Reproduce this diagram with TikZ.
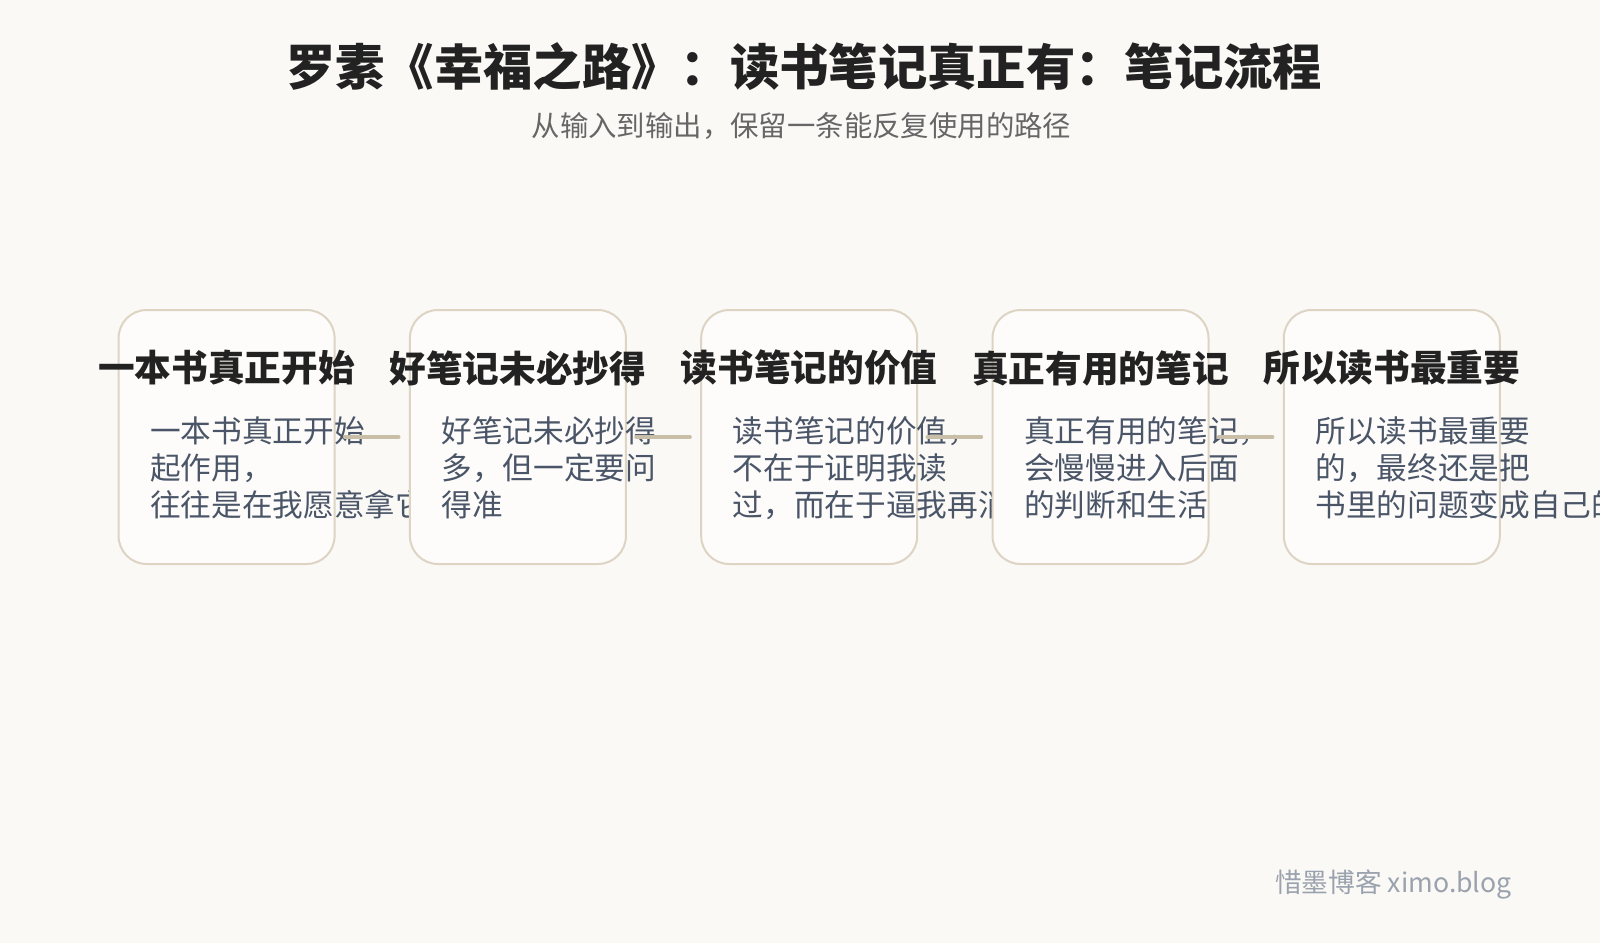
\documentclass[tikz,border=0pt]{standalone}
\usepackage{fontspec}
\setmainfont{Noto Sans CJK SC}
\usetikzlibrary{positioning}

\definecolor{pagebg}{HTML}{FAF9F6}
\definecolor{cardfill}{HTML}{FDFCFA}
\definecolor{cardline}{HTML}{DDD4C4}
\definecolor{linkline}{HTML}{C9BEA8}
\definecolor{titletext}{HTML}{222222}
\definecolor{subtext}{HTML}{666666}
\definecolor{headtext}{HTML}{222222}
\definecolor{bodytext}{HTML}{4A5568}
\definecolor{marktext}{HTML}{9AA2AE}

\tikzset{
  card/.style={draw=cardline, fill=cardfill, line width=1.5pt, rounded corners=21pt,
    minimum width=162pt, minimum height=190.5pt, inner sep=0pt},
  cardhead/.style={text=headtext, inner sep=0pt, font=\bfseries\fontsize{27.5pt}{33pt}\selectfont},
  cardbody/.style={anchor=north west, align=left, inner sep=0pt, text=bodytext,
    font=\fontsize{23pt}{27.75pt}\selectfont},
  link/.style={draw=linkline, line width=2.4pt, line cap=round, shorten <=6.75pt, shorten >=7.5pt},
}

\begin{document}
\begin{tikzpicture}[x=0.75pt,y=0.75pt,yscale=-1,xscale=1]
\fill[pagebg] (0,0) rectangle (1600,943);
\useasboundingbox (0,0) rectangle (1600,943);

% Title
\node[text=titletext, inner sep=0pt, font=\bfseries\fontsize{37pt}{44pt}\selectfont] (title) at (804,67) {罗素《幸福之路》：读书笔记真正有：笔记流程};
% Subtitle
\node[text=subtext, inner sep=0pt, font=\fontsize{21.3pt}{26pt}\selectfont] (subtitle) at (801.5,126.5) {从输入到输出，保留一条能反复使用的路径};

%Card 1
\node[card] (c1) at (226.6,437) {};
\node[cardhead] (h1) at (226.6,368) {一本书真正开始};
\node[cardbody] (t1) at (150,416) {一本书真正开始\\起作用，\\往往是在我愿意拿它};
%Card 2
\node[card] (c2) at (517.9,437) {};
\node[cardhead] (h2) at (517.9,368) {好笔记未必抄得};
\node[cardbody] (t2) at (441.3,416) {好笔记未必抄得\\多，但一定要问\\得准};
%Card 3
\node[card] (c3) at (809.2,437) {};
\node[cardhead] (h3) at (809.2,368) {读书笔记的价值};
\node[cardbody] (t3) at (732.6,416) {读书笔记的价值，\\不在于证明我读\\过，而在于逼我再消化};
%Card 4
\node[card] (c4) at (1100.5,437) {};
\node[cardhead] (h4) at (1100.5,368) {真正有用的笔记};
\node[cardbody] (t4) at (1023.9,416) {真正有用的笔记，\\会慢慢进入后面\\的判断和生活};
%Card 5
\node[card] (c5) at (1391.8,437) {};
\node[cardhead] (h5) at (1391.8,368) {所以读书最重要};
\node[cardbody] (t5) at (1315.2,416) {所以读书最重要\\的，最终还是把\\书里的问题变成自己的};

%Links
\draw[link] (c1.east) -- (c2.west);
\draw[link] (c2.east) -- (c3.west);
\draw[link] (c3.east) -- (c4.west);
\draw[link] (c4.east) -- (c5.west);

% Watermark
\node[anchor=east, text=marktext, inner sep=0pt, font=\fontsize{20pt}{24pt}\selectfont] (mark) at (1512,885) {惜墨博客 ximo.blog};

\end{tikzpicture}
\end{document}
